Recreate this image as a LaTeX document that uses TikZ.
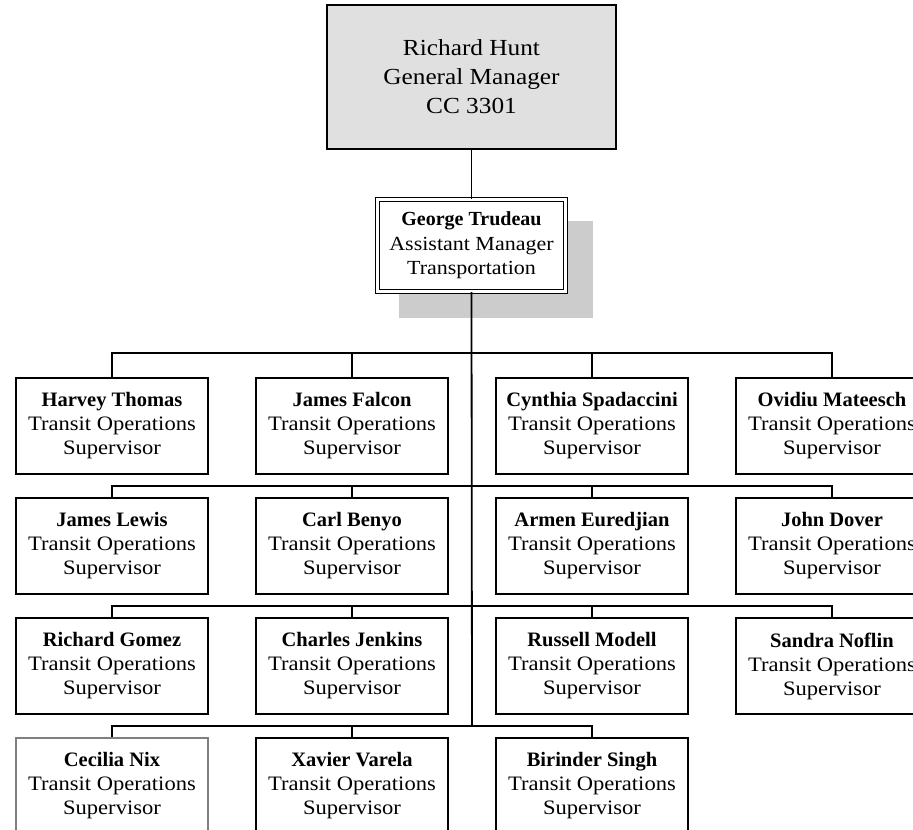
\documentclass[tikz,border=0pt]{standalone}
\usepackage{fontspec}
\setmainfont[FakeStretch=1.1, BoldFeatures={FakeStretch=1.0}]{Liberation Serif}
\definecolor{topgray}{HTML}{E0E0E0}
\definecolor{shadowgray}{HTML}{CCCCCC}
\definecolor{nixgray}{HTML}{7F7F7F}
\begin{document}
\begin{tikzpicture}[x=1pt,y=-1pt,
  line width=1.7pt,
  tosbox/.style={draw, line width=1.7pt, fill=white, minimum width=192pt, minimum height=96pt,
    inner sep=0pt, align=center, font=\fontsize{20.5}{24}\selectfont},
  conn/.style={line width=1.8pt}]
\useasboundingbox (0,0) rectangle (913,830);
\clip (0,0) rectangle (913,830);
% top
\node[draw, line width=1.7pt, fill=topgray, minimum width=289pt, minimum height=144pt, inner sep=0pt,
  align=center, font=\fontsize{23}{29}\selectfont] (gm) at (471.5,77) {Richard Hunt\\General Manager\\CC 3301};
% shadow
\fill[shadowgray] (399,221) rectangle (593,318);
\node[draw, double, double distance=2.5pt, line width=1.1pt, fill=white, minimum width=188pt, minimum height=92pt,
  inner sep=0pt, align=center, font=\fontsize{20}{24.5}\selectfont] (gt) at (471.5,245.5)
  {\textbf{George Trudeau}\\Assistant Manager\\Transportation};
% bus coordinates
\coordinate (b1) at (472,353);
\coordinate (b2) at (472,486);
\coordinate (b3) at (472,606);
\coordinate (b4) at (472,726);
\draw[conn] (gm.south) -- (gt.north);
\draw[conn] (gt.south) -- (b4);
% row 1
\node[tosbox] (r1a) at (112,426) {\textbf{Harvey Thomas}\\Transit Operations\\Supervisor};
\node[tosbox] (r1b) at (352,426) {\textbf{James Falcon}\\Transit Operations\\Supervisor};
\node[tosbox] (r1c) at (592,426) {\textbf{Cynthia Spadaccini}\\Transit Operations\\Supervisor};
\node[tosbox] (r1d) at (832,426) {\textbf{Ovidiu Mateesch}\\Transit Operations\\Supervisor};
% row 2
\node[tosbox] (r2a) at (112,546) {\textbf{James Lewis}\\Transit Operations\\Supervisor};
\node[tosbox] (r2b) at (352,546) {\textbf{Carl Benyo}\\Transit Operations\\Supervisor};
\node[tosbox] (r2c) at (592,546) {\textbf{Armen Euredjian}\\Transit Operations\\Supervisor};
\node[tosbox] (r2d) at (832,546) {\textbf{John Dover}\\Transit Operations\\Supervisor};
% row 3
\node[tosbox] (r3a) at (112,666) {\textbf{Richard Gomez}\\Transit Operations\\Supervisor};
\node[tosbox] (r3b) at (352,666) {\textbf{Charles Jenkins}\\Transit Operations\\Supervisor};
\node[tosbox] (r3c) at (592,666) {\textbf{Russell Modell}\\Transit Operations\\Supervisor};
\node[tosbox] (r3d) at (832,666) {\textbf{Sandra Noflin}\\Transit Operations\\Supervisor};
% row 4
\node[tosbox, draw=nixgray, line width=1.1pt] (r4a) at (112,786) {\textbf{Cecilia Nix}\\Transit Operations\\Supervisor};
\node[tosbox] (r4b) at (352,786) {\textbf{Xavier Varela}\\Transit Operations\\Supervisor};
\node[tosbox] (r4c) at (592,786) {\textbf{Birinder Singh}\\Transit Operations\\Supervisor};
% connectors
\draw[conn] (r1a.north) |- (b1) -| (r1d.north);
\draw[conn] (r1b.north) |- (b1);
\draw[conn] (r1c.north) |- (b1);
\draw[conn] (r2a.north) |- (b2) -| (r2d.north);
\draw[conn] (r2b.north) |- (b2);
\draw[conn] (r2c.north) |- (b2);
\draw[conn] (r3a.north) |- (b3) -| (r3d.north);
\draw[conn] (r3b.north) |- (b3);
\draw[conn] (r3c.north) |- (b3);
\draw[conn] (r4a.north) |- (b4) -| (r4c.north);
\draw[conn] (r4b.north) |- (b4);
\end{tikzpicture}
\end{document}
